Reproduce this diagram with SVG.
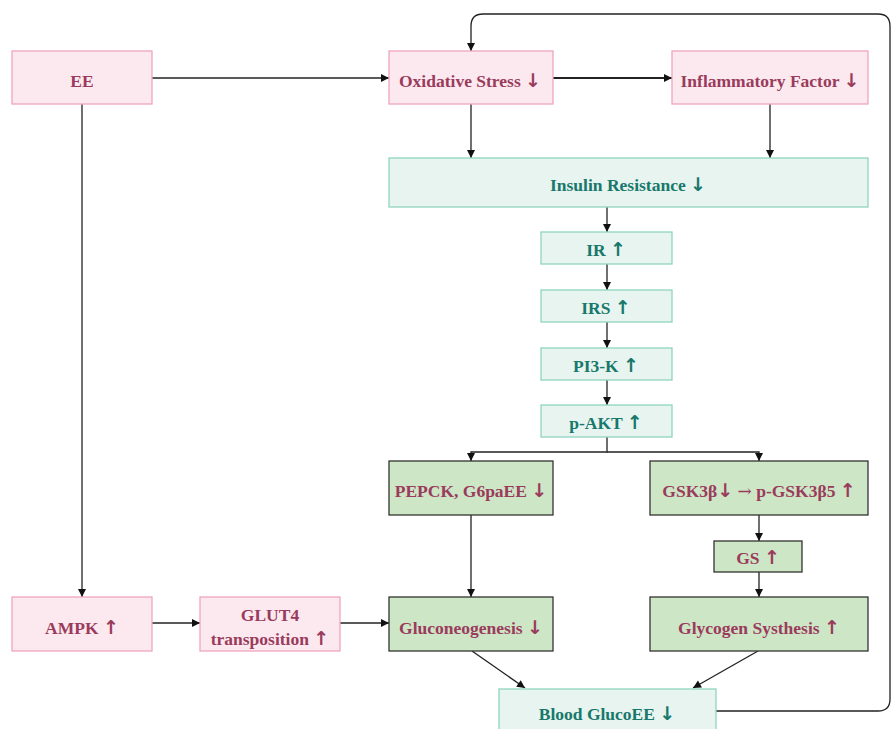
<svg xmlns="http://www.w3.org/2000/svg" width="893" height="729" viewBox="0 0 893 729">
<defs>
<marker id="ah" markerWidth="10" markerHeight="10" refX="9" refY="5" orient="auto" markerUnits="userSpaceOnUse">
<path d="M1,1 L9,5 L1,9 z" fill="#111"/>
</marker>
<style>
.pk rect{fill:#fbe9ef;stroke:#eea6bb;stroke-width:1.3}
.tl rect{fill:#e7f4f0;stroke:#8fd4bf;stroke-width:1.3}
.gr rect{fill:#cde6c6;stroke:#333;stroke-width:1.3}
text{font-family:"Liberation Serif","Times New Roman",serif;font-weight:bold;font-size:17.5px;text-anchor:middle}
.ar{font-family:"DejaVu Sans",sans-serif;font-weight:bold;font-size:19px}
.ra{font-family:"DejaVu Serif",serif;font-weight:normal;font-size:17px}
.pk text,.gr text{fill:#9a3b5c}
.tl text{fill:#17786b}
#edges path{fill:none;stroke:#222;stroke-width:1.3;marker-end:url(#ah)}
</style>
</defs>
<rect width="893" height="729" fill="#fff"/>
<g id="edges">
<path d="M152,78 L389,78"/>
<path d="M553,78 L672,78" style="stroke-width:2.2"/>
<path d="M82,104 L82,597"/>
<path d="M471,104 L471,158"/>
<path d="M770,104 L770,158"/>
<path d="M607,207 L607,232"/>
<path d="M607,264 L607,290"/>
<path d="M607,322 L607,348"/>
<path d="M607,380 L607,405"/>
<path d="M607,437 L607,452 L471,452 L471,461"/>
<path d="M607,452 L759,452 L759,461"/>
<path d="M471,515 L471,597"/>
<path d="M759,515 L759,541"/>
<path d="M759,572 L759,597"/>
<path d="M152,623 L200,623"/>
<path d="M340,623 L389,623"/>
<path d="M472,651 L525,688"/>
<path d="M758,651 L693,688"/>
<path d="M716,711 L878,711 Q890,711 890,699 L890,26 Q890,14 878,14 L483,14 Q471,14 471,26 L471,51"/>
</g>
<g id="ee" class="pk"><rect x="12" y="51" width="140" height="53"/><text x="82" y="87">EE</text></g>
<g id="oxidative" class="pk"><rect x="389" y="51" width="164" height="53"/><text x="470" y="87">Oxidative Stress <tspan class="ar">↓</tspan></text></g>
<g id="inflammatory" class="pk"><rect x="672" y="51" width="196" height="53"/><text x="770" y="87">Inflammatory Factor <tspan class="ar">↓</tspan></text></g>
<g id="insulin" class="tl"><rect x="389" y="158" width="479" height="49"/><text x="628" y="191">Insulin Resistance <tspan class="ar">↓</tspan></text></g>
<g id="ir" class="tl"><rect x="541" y="232" width="131" height="32"/><text x="606" y="256">IR <tspan class="ar">↑</tspan></text></g>
<g id="irs" class="tl"><rect x="541" y="290" width="131" height="32"/><text x="606" y="314">IRS <tspan class="ar">↑</tspan></text></g>
<g id="pi3k" class="tl"><rect x="541" y="348" width="131" height="32"/><text x="606" y="372">PI3-K <tspan class="ar">↑</tspan></text></g>
<g id="pakt" class="tl"><rect x="541" y="405" width="131" height="32"/><text x="606" y="429">p-AKT <tspan class="ar">↑</tspan></text></g>
<g id="pepck" class="gr"><rect x="389" y="461" width="164" height="54"/><text x="471" y="497">PEPCK, G6paEE <tspan class="ar">↓</tspan></text></g>
<g id="gsk" class="gr"><rect x="650" y="461" width="218" height="54"/><text x="759" y="497">GSK3β<tspan class="ar">↓</tspan> <tspan class="ra">→</tspan> p-GSK3β5 <tspan class="ar">↑</tspan></text></g>
<g id="gs" class="gr"><rect x="714" y="541" width="88" height="31"/><text x="758" y="564">GS <tspan class="ar">↑</tspan></text></g>
<g id="glycogen" class="gr"><rect x="650" y="597" width="218" height="54"/><text x="759" y="634">Glycogen Systhesis <tspan class="ar">↑</tspan></text></g>
<g id="gluconeo" class="gr"><rect x="389" y="597" width="164" height="54"/><text x="471" y="634">Gluconeogenesis <tspan class="ar">↓</tspan></text></g>
<g id="ampk" class="pk"><rect x="12" y="597" width="140" height="54"/><text x="82" y="634">AMPK <tspan class="ar">↑</tspan></text></g>
<g id="glut4" class="pk"><rect x="200" y="597" width="140" height="54"/><text x="270" y="621">GLUT4</text><text x="270" y="645">transposition <tspan class="ar">↑</tspan></text></g>
<g id="blood" class="tl"><rect x="499" y="689" width="217" height="50"/><text x="607" y="720">Blood GlucoEE <tspan class="ar">↓</tspan></text></g>
</svg>
